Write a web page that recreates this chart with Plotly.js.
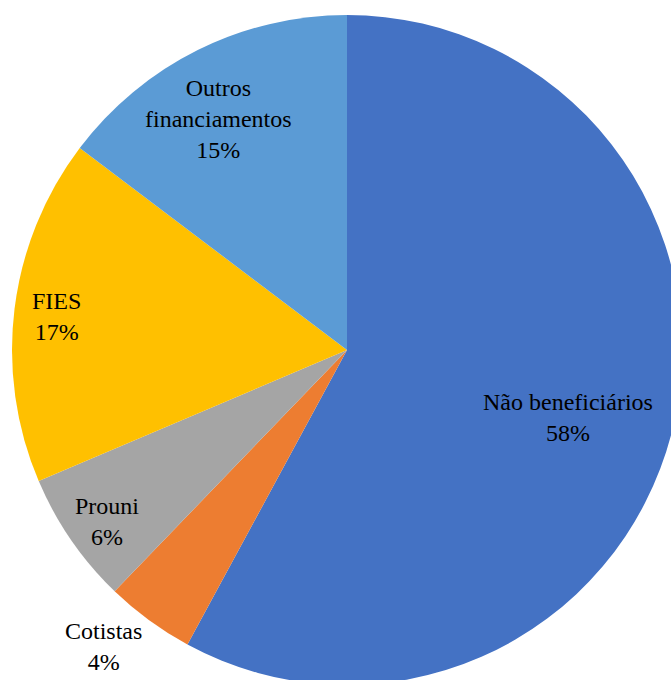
<!DOCTYPE html>
<html>
<head>
<meta charset="utf-8">
<script src="https://cdn.plot.ly/plotly-3.0.1.min.js"></script>
<style>
html, body { margin: 0; padding: 0; overflow: hidden; background: #fff; width: 671px; height: 680px; }
#chart { width: 694px; height: 700px; }
</style>
</head>
<body>
<div id="chart"></div>
<script>
const categories = ["Não beneficiários", "Cotistas", "Prouni", "FIES", "Outros<br>financiamentos"];
const shares = [57.9, 4.3, 6.4, 16.7, 14.7];
const colors = ["#4472C4", "#ED7D31", "#A5A5A5", "#FFC000", "#5B9BD5"];
// label placement (layout only): radius as a fraction of the pie radius, and angular nudge in degrees
const labelRadius = [0.69, 1.145, 0.881, 0.872, 0.79];
const labelAngleShift = [2.7, 3.2, -1.0, -0.5, -2.7];

const FONT = "'Liberation Serif', 'Times New Roman', serif";
const total = shares.reduce((a, b) => a + b, 0);
let acc = 0;
const annotations = shares.map((v, i) => {
  const mid = ((acc + v / 2) / total * 360 + labelAngleShift[i]) * Math.PI / 180; // clockwise from top
  acc += v;
  const f = labelRadius[i];
  return {
    xref: "paper", yref: "paper",
    x: 0.5 + 0.5 * f * Math.sin(mid),
    y: 0.5 + 0.5 * f * Math.cos(mid),
    xanchor: "center", yanchor: "middle",
    text: categories[i] + "<br>" + Math.round(v / total * 100) + "%",
    showarrow: false,
    align: "center",
    font: { family: FONT, size: 24, color: "#000" }
  };
});

Plotly.newPlot("chart", [{
  type: "pie",
  labels: categories,
  values: shares,
  sort: false,
  direction: "clockwise",
  rotation: 0,
  marker: { colors: colors, line: { width: 0 } },
  textinfo: "none",
  hoverinfo: "label+percent",
  showlegend: false
}], {
  width: 694,
  height: 700,
  margin: { l: 12, r: 12, t: 15, b: 15 },
  paper_bgcolor: "#fff",
  font: { family: FONT },
  annotations: annotations,
  showlegend: false
}, { displayModeBar: false, staticPlot: true });
</script>
</body>
</html>
